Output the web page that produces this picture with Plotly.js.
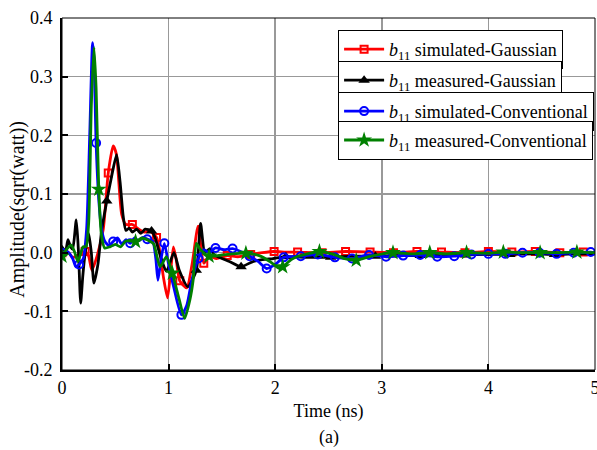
<!DOCTYPE html>
<html>
<head>
<meta charset="utf-8">
<script src="https://cdn.plot.ly/plotly-3.0.1.min.js"></script>
<style>html,body{margin:0;padding:0;background:#fff;}#chart{width:597px;height:450px;}</style>
</head>
<body>
<div id="chart"></div>
<script>
// ---- data ----
var tRed = [0, 0.05, 0.1, 0.15, 0.217, 0.25, 0.28, 0.33, 0.387, 0.434, 0.48, 0.51, 0.56, 0.6, 0.66, 0.72, 0.77, 0.82, 0.887, 0.92, 0.95, 0.99, 1.02, 1.045, 1.07, 1.105, 1.17, 1.22, 1.277, 1.33, 1.38, 1.45, 1.55, 1.65, 1.77, 1.88, 1.99, 2.1, 2.21, 2.44, 2.66, 2.89, 3.11, 3.33, 3.56, 3.78, 4.0, 4.22, 4.44, 4.67, 4.89, 5.0];
var vRed = [0, 0.002, -0.008, -0.004, 0.002, -0.006, -0.03, -0.005, 0.04, 0.136, 0.182, 0.168, 0.065, 0.048, 0.048, 0.04, 0.035, 0.037, 0.026, 0.0, -0.04, -0.077, -0.03, 0.01, -0.01, -0.048, -0.06, -0.02, 0.045, -0.018, -0.006, -0.01, -0.005, -0.007, -0.003, 0.0, 0.002, 0.001, 0.001, 0.0, 0.002, 0.001, 0.0, 0.002, 0.001, 0.0, 0.002, 0.001, 0.002, 0.0, 0.001, 0.0];
var mRed = [0, 0.217, 0.434, 0.66, 0.887, 1.105, 1.33, 1.55, 1.77, 1.99, 2.21, 2.44, 2.66, 2.89, 3.11, 3.33, 3.56, 3.78, 4.0, 4.22, 4.44, 4.67, 4.89];

var tBlk = [0, 0.03, 0.056, 0.08, 0.1, 0.134, 0.155, 0.175, 0.195, 0.215, 0.25, 0.275, 0.3, 0.337, 0.37, 0.42, 0.46, 0.512, 0.545, 0.574, 0.6, 0.63, 0.66, 0.7, 0.74, 0.78, 0.84, 0.87, 0.93, 0.98, 1.05, 1.1, 1.18, 1.26, 1.3, 1.34, 1.386, 1.43, 1.5, 1.57, 1.68, 1.78, 1.88, 1.98, 2.1, 2.3, 2.52, 2.73, 2.94, 3.15, 3.36, 3.57, 3.78, 3.99, 4.2, 4.41, 4.62, 4.83, 5.0];
var vBlk = [0.005, 0.0, 0.022, 0.01, 0.006, 0.056, 0.0, -0.086, -0.04, -0.004, 0.033, 0.0, -0.052, -0.02, 0.035, 0.088, 0.125, 0.167, 0.12, 0.062, 0.038, 0.042, 0.035, 0.04, 0.033, 0.04, 0.037, 0.027, -0.01, -0.032, 0.0, -0.03, -0.058, -0.03, 0.05, 0.0, 0.007, -0.004, -0.01, -0.015, -0.024, -0.016, -0.012, -0.01, -0.007, -0.008, -0.008, -0.006, -0.006, -0.005, -0.005, -0.004, -0.004, -0.003, -0.003, -0.002, -0.003, -0.002, -0.002];
var mBlk = [0, 0.42, 0.84, 1.26, 1.68, 2.1, 2.52, 2.94, 3.36, 3.78, 4.2, 4.62];

var tBlu = [0, 0.05, 0.1, 0.13, 0.16, 0.2, 0.231, 0.26, 0.287, 0.3, 0.32, 0.345, 0.372, 0.4, 0.44, 0.48, 0.52, 0.56, 0.6, 0.64, 0.68, 0.72, 0.76, 0.8, 0.85, 0.88, 0.9, 0.93, 0.96, 1.0, 1.05, 1.12, 1.17, 1.22, 1.28, 1.33, 1.38, 1.44, 1.52, 1.6, 1.7, 1.76, 1.84, 1.92, 2.0, 2.08, 2.24, 2.4, 2.56, 2.72, 2.88, 3.04, 3.2, 3.36, 3.52, 3.68, 3.84, 4.0, 4.16, 4.32, 4.48, 4.64, 4.8, 4.96, 5.0];
var vBlu = [0.0, 0.002, -0.01, -0.024, -0.02, -0.01, 0.04, 0.2, 0.358, 0.33, 0.187, 0.09, 0.039, 0.02, 0.012, 0.019, 0.025, 0.015, 0.022, 0.016, 0.025, 0.02, 0.026, 0.023, 0.02, -0.01, -0.047, -0.01, 0.016, -0.02, -0.06, -0.106, -0.09, -0.045, -0.01, 0.005, 0.0, 0.008, 0.005, 0.007, 0.0, -0.006, -0.015, -0.027, -0.02, -0.008, -0.006, -0.003, -0.008, -0.01, -0.004, -0.007, -0.005, -0.004, -0.007, -0.006, -0.003, -0.002, -0.002, 0.0, 0.0, -0.002, 0.0, 0.001, 0.0];
var mBlu = [0, 0.16, 0.32, 0.48, 0.64, 0.8, 0.96, 1.12, 1.28, 1.44, 1.6, 1.76, 1.92, 2.08, 2.24, 2.4, 2.56, 2.72, 2.88, 3.04, 3.2, 3.36, 3.52, 3.68, 3.84, 4.0, 4.16, 4.32, 4.48, 4.64, 4.8, 4.96];

var tGrn = [0, 0.04, 0.087, 0.12, 0.15, 0.197, 0.225, 0.25, 0.275, 0.3, 0.32, 0.345, 0.37, 0.4, 0.45, 0.5, 0.55, 0.6, 0.69, 0.75, 0.82, 0.86, 0.92, 0.98, 1.035, 1.1, 1.15, 1.2, 1.23, 1.26, 1.3, 1.38, 1.5, 1.6, 1.725, 1.85, 1.95, 2.04, 2.07, 2.15, 2.2, 2.3, 2.415, 2.55, 2.65, 2.76, 2.9, 3.105, 3.3, 3.45, 3.6, 3.795, 4.0, 4.14, 4.3, 4.485, 4.65, 4.83, 5.0];
var vGrn = [-0.006, 0.005, 0.013, 0.0, -0.015, 0.01, 0.01, 0.05, 0.25, 0.35, 0.28, 0.108, 0.03, 0.008, 0.01, 0.014, 0.01, 0.02, 0.019, 0.025, 0.02, 0.015, -0.024, -0.007, -0.035, -0.08, -0.112, -0.08, -0.047, 0.016, 0.005, -0.006, -0.004, -0.002, -0.001, -0.005, -0.015, -0.027, -0.024, -0.012, -0.007, -0.002, 0.002, -0.003, -0.01, -0.013, -0.006, 0.0, -0.002, 0.0, -0.002, 0.0, -0.001, 0.001, 0.0, 0.0, 0.0, 0.001, 0.0];
var mGrn = [0, 0.345, 0.69, 1.035, 1.38, 1.725, 2.07, 2.415, 2.76, 3.105, 3.45, 3.795, 4.14, 4.485, 4.83];

var seriesNames = ['<i>b</i><sub>11</sub> simulated-Gaussian', '<i>b</i><sub>11</sub> measured-Gaussian',
                   '<i>b</i><sub>11</sub> simulated-Conventional', '<i>b</i><sub>11</sub> measured-Conventional'];
var yTickVals = [-0.2, -0.1, 0.0, 0.1, 0.2, 0.3, 0.4];
var yTickText = ['-0.2', '-0.1', '0.0', '0.1', '0.2', '0.3', '0.4'];
var xTickVals = [0, 1, 2, 3, 4, 5];
var xTickText = ['0', '1', '2', '3', '4', '5'];

// ---- build ----
function idxOf(t, m) { return m.map(function (v) { return t.indexOf(v); }).filter(function (i) { return i >= 0; }); }

var FONT = 'Liberation Serif, Times New Roman, serif';
var styles = [
  {color: '#ff0000', symbol: 'square-open', size: 7, lw: 2},
  {color: '#000000', symbol: 'triangle-up', size: 10, lw: 0},
  {color: '#0000ff', symbol: 'circle-open', size: 8, lw: 2},
  {color: '#008000', symbol: 'star', size: 12, lw: 0}
];
var T = [tRed, tBlk, tBlu, tGrn], V = [vRed, vBlk, vBlu, vGrn], M = [mRed, mBlk, mBlu, mGrn];
var legendIds = ['legend', 'legend2', 'legend3', 'legend4'];

var traces = [];
for (var k = 0; k < 4; k++) {
  var s = styles[k];
  traces.push({
    type: 'scatter', mode: 'lines+markers',
    x: T[k], y: V[k], name: seriesNames[k], legend: legendIds[k],
    line: {color: s.color, width: 2.8, shape: 'spline', smoothing: 0.6},
    marker: {symbol: s.symbol, size: s.size, color: s.color, line: {color: s.color, width: s.lw}},
    selectedpoints: idxOf(T[k], M[k]),
    selected: {marker: {opacity: 1}},
    unselected: {marker: {opacity: 0}},
    hoverinfo: 'skip'
  });
}

function legendBox(y) {
  return {x: 0.518, y: y, xanchor: 'left', yanchor: 'top', bgcolor: '#ffffff',
          bordercolor: '#000000', borderwidth: 1, itemwidth: 40,
          font: {family: FONT, size: 18, color: '#000'}};
}

var layout = {
  width: 597, height: 450,
  margin: {l: 62, r: 2, t: 18, b: 80},
  paper_bgcolor: '#ffffff', plot_bgcolor: '#ffffff',
  font: {family: FONT, size: 18, color: '#000'},
  showlegend: true,
  legend: legendBox(0.966),
  legend2: legendBox(0.878),
  legend3: legendBox(0.790),
  legend4: legendBox(0.708),
  xaxis: {
    range: [0, 5], tickvals: xTickVals, ticktext: xTickText,
    ticks: 'inside', ticklen: 6, tickwidth: 2, tickcolor: '#000',
    showline: true, linewidth: 2, linecolor: '#000', ticklabeloverflow: 'allow',
    showgrid: true, gridcolor: '#999999', gridwidth: 1.5, zeroline: false,
    tickfont: {family: FONT, size: 18, color: '#000'},
    title: {text: 'Time (ns)', font: {family: FONT, size: 18, color: '#000'}, standoff: 8}
  },
  yaxis: {
    range: [-0.2, 0.4], tickvals: yTickVals, ticktext: yTickText,
    ticks: 'inside', ticklen: 6, tickwidth: 2, tickcolor: '#000',
    showline: true, linewidth: 2, linecolor: '#000',
    showgrid: true, gridcolor: '#999999', gridwidth: 1.5, zeroline: false,
    tickfont: {family: FONT, size: 18, color: '#000'}, ticklabelstandoff: 4
  },
  shapes: [{type: 'rect', xref: 'paper', yref: 'paper', x0: 0, x1: 1, y0: 0, y1: 1,
            line: {color: '#000', width: 1}, layer: 'above'}],
  annotations: [
    {text: '(a)', xref: 'paper', yref: 'paper', x: 0.5, y: -0.193,
     xanchor: 'center', yanchor: 'middle', showarrow: false,
     font: {family: FONT, size: 18, color: '#000'}},
    {text: 'Amplitude(sqrt(watt))', xref: 'paper', yref: 'paper', x: -0.0835, y: 0.457,
     xanchor: 'center', yanchor: 'middle', textangle: -90, showarrow: false,
     font: {family: FONT, size: 20, color: '#000'}}
  ]
};

Plotly.newPlot('chart', traces, layout, {displayModeBar: false, staticPlot: true});
</script>
</body>
</html>
